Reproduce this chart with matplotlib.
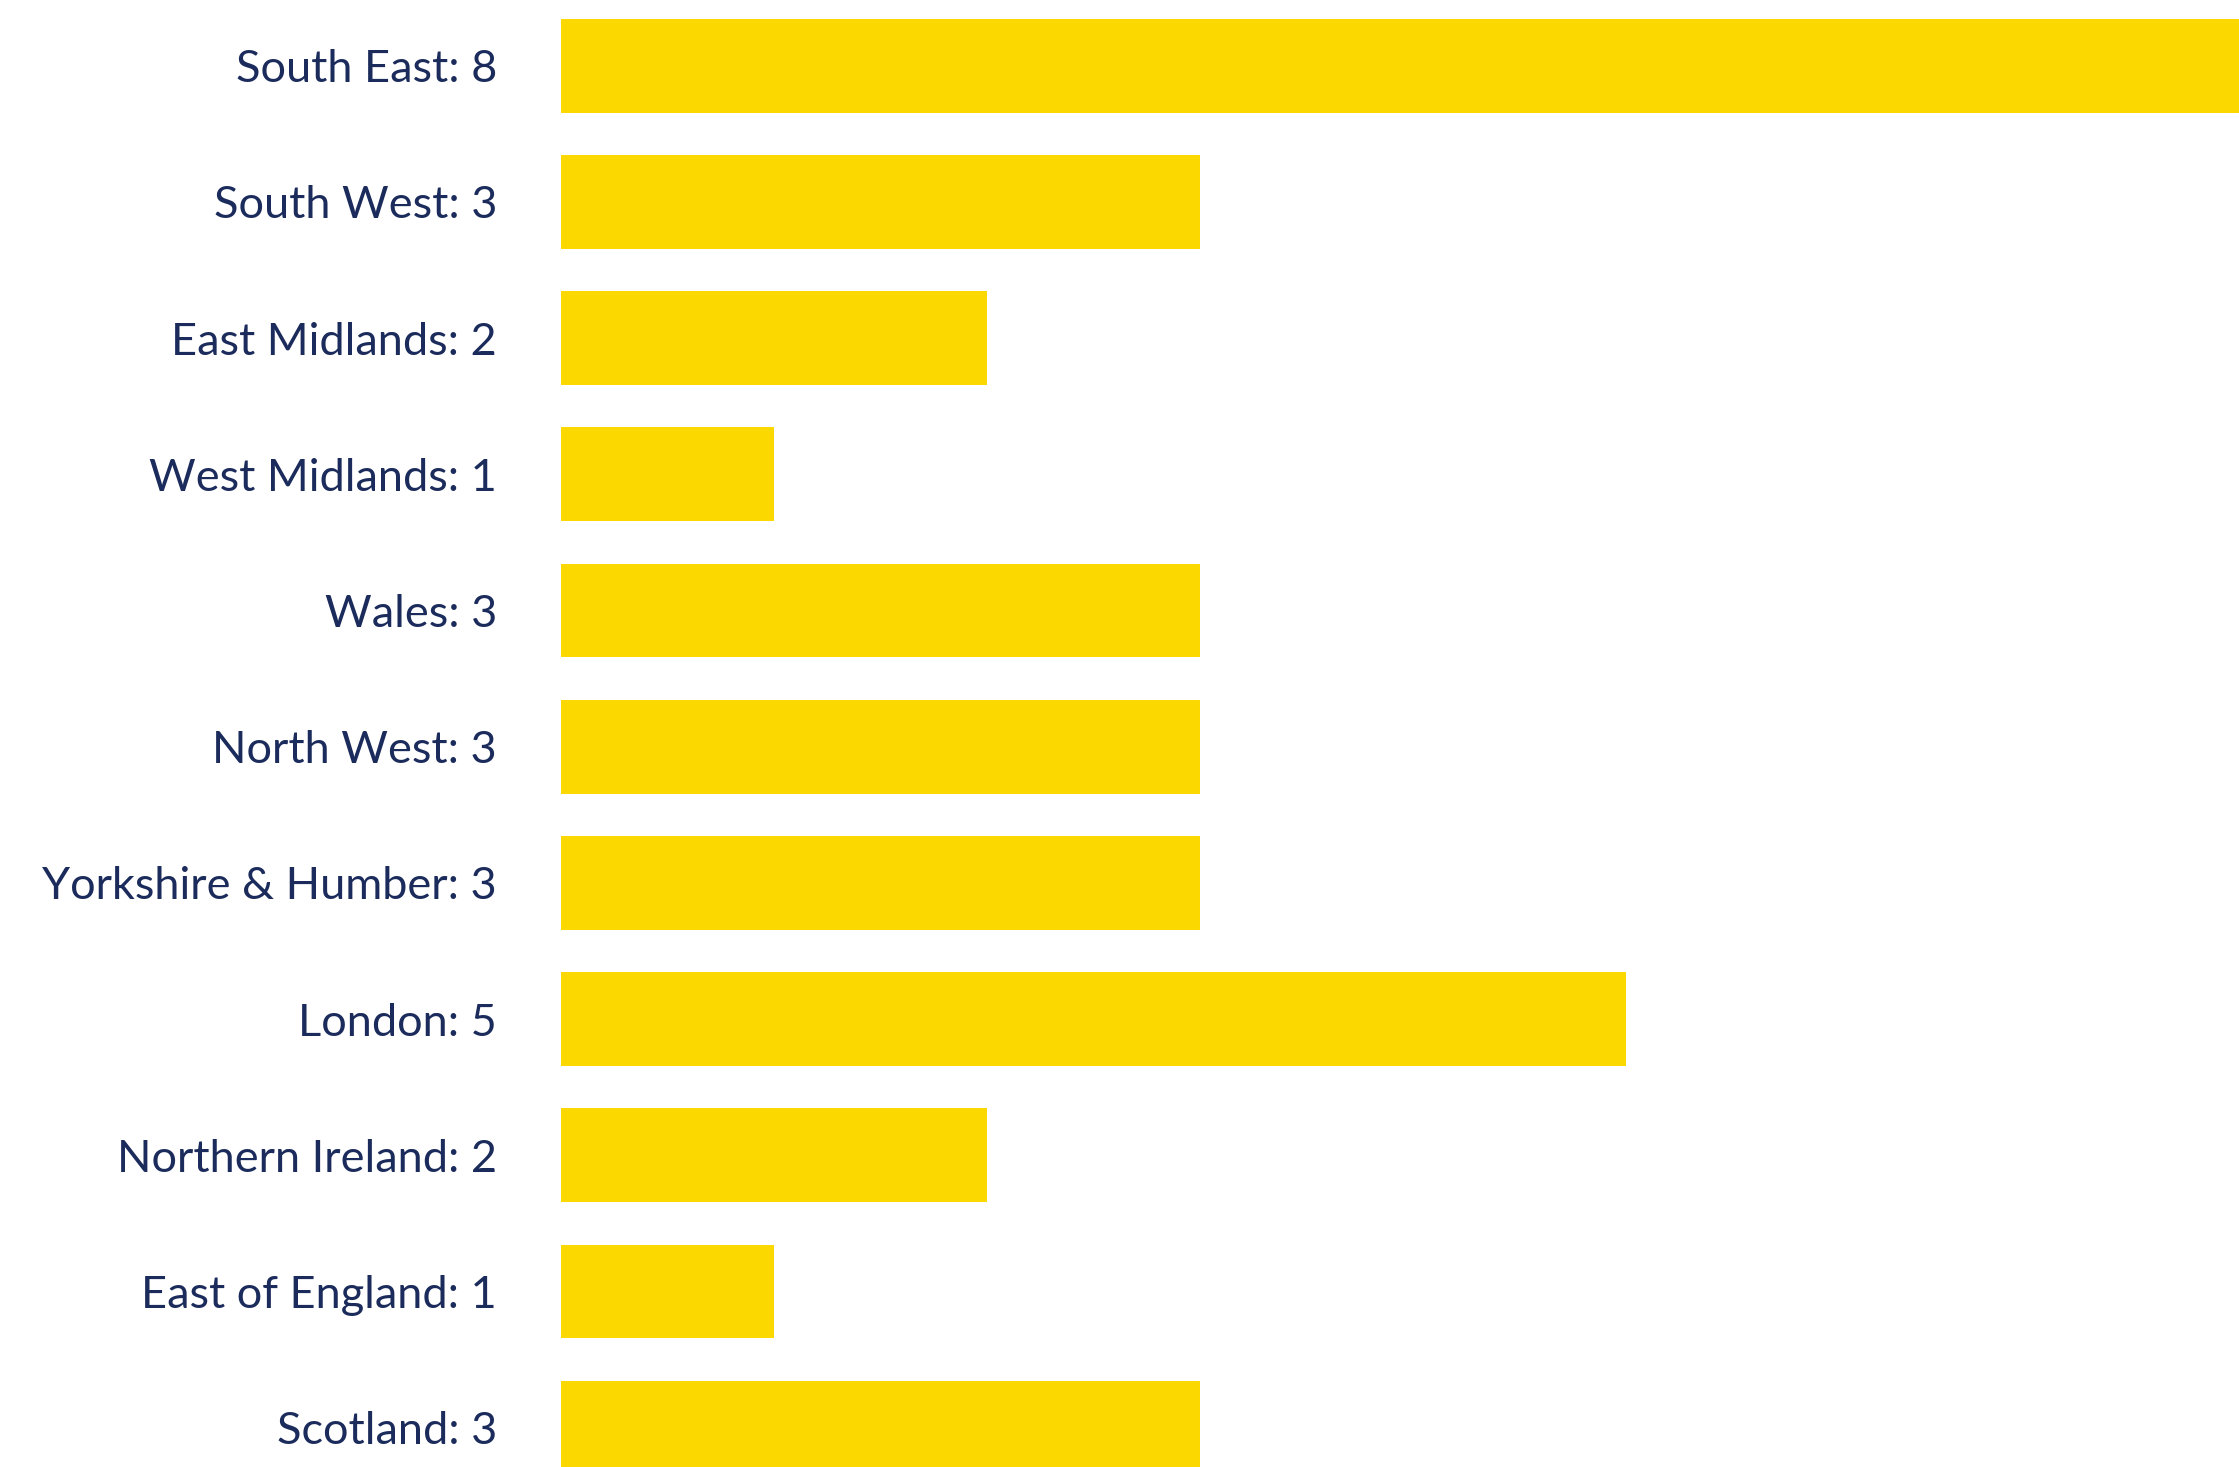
import matplotlib
matplotlib.use('Agg')
import matplotlib.pyplot as plt

# ── Data ───────────────────────────────────────────────────────────────────
regions = ['South East', 'South West', 'East Midlands', 'West Midlands', 'Wales',
           'North West', 'Yorkshire & Humber', 'London', 'Northern Ireland',
           'East of England', 'Scotland']
counts = [8, 3, 2, 1, 3, 3, 3, 5, 2, 1, 3]

BAR_COLOR = '#FBD800'
TEXT_COLOR = '#1B2B5B'

plt.rcParams['font.family'] = ['Lato', 'DejaVu Sans']

W, H, DPI = 2239, 1467, 100
fig = plt.figure(figsize=(W / DPI, H / DPI), dpi=DPI)
fig.patch.set_facecolor('white')

left_px = 561
ax = fig.add_axes([left_px / W, 0, 1 - left_px / W, 1])

y = list(range(len(regions)))
ax.barh(y, counts, height=0.69, color=BAR_COLOR, linewidth=0)

# scale: ~213 px per unit, row spacing ~136 px, first row centre at ~66 px
px_per_unit = 213.0
row_px = 136.2
first_px = 65.7
ax.set_xlim(0, (W - left_px) / px_per_unit)
ax.set_ylim(len(regions) - 1 + (H - first_px - (len(regions) - 1) * row_px) / row_px,
            -first_px / row_px)

ax.set_yticks(y)
ax.set_yticklabels([f'{r}: {c}' for r, c in zip(regions, counts)],
                   fontsize=32.5, color=TEXT_COLOR)
ax.tick_params(axis='y', length=0, pad=46)
ax.set_xticks([])
for s in ax.spines.values():
    s.set_visible(False)

fig.savefig('out.png', dpi=DPI, facecolor='white')
